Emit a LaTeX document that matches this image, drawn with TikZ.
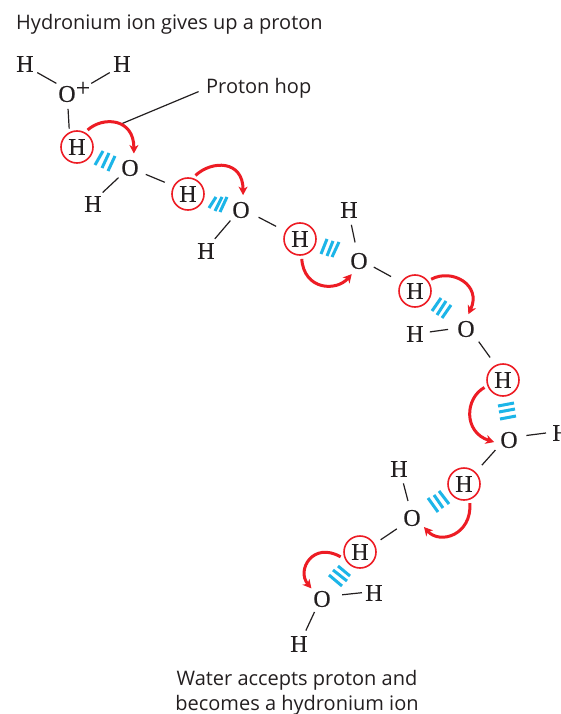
\documentclass[tikz,border=0pt]{standalone}
\usepackage{fontspec}
\setmainfont[FakeBold=0.25]{Liberation Serif}
\newfontfamily\labelfont{Open Sans}
\usetikzlibrary{arrows.meta}
\definecolor{ink}{HTML}{231F20}
\definecolor{hopred}{HTML}{ED1C24}
\definecolor{hashblue}{HTML}{1CB5E8}
\tikzset{
  atom/.style={circle,inner sep=0pt,minimum size=30pt,outer sep=0pt,text=ink,font=\fontsize{24}{24}\selectfont},
  hcirc/.style={circle,draw=hopred,line width=1.6pt,inner sep=0pt,minimum size=32pt,outer sep=4pt,text=ink,font=\fontsize{24}{24}\selectfont},
  plusn/.style={circle,inner sep=0pt,minimum size=20pt,outer sep=0pt,text=ink,font=\fontsize{25}{25}\selectfont},
  bond/.style={draw=ink,line width=1.2pt},
  hop/.style={draw=hopred,line width=3pt,-{Stealth[length=8.5pt,width=9pt,inset=2.5pt]}},
  hashl/.style={draw=hashblue,line width=3pt},
  lab/.style={text=ink,inner sep=0pt,font=\labelfont\fontsize{20}{25}\selectfont},
}
\begin{document}
\begin{tikzpicture}[x=1pt,y=-1pt]
\useasboundingbox (0,0) rectangle (561,714);
\clip (0,0) rectangle (561,714);
\fill[white] (0,0) rectangle (561,714);
% labels
\node[lab,anchor=west] (t1) at (16,24) {Hydronium ion gives up a proton};
\node[lab,anchor=west] (t2) at (206,88.5) {Proton hop};
\node[lab,align=center,anchor=center] (t3) at (297,693) {Water accepts proton and\\becomes a hydronium ion};
% atoms
\node[atom] (h1) at (25,64) {H};
\node[atom] (h2) at (122,64) {H};
\node[atom] (o1) at (67,94) {O};
\node[plusn] (pl) at (83,89) {+};
\node[hcirc] (c1) at (77,147) {H};
\node[atom] (o2) at (130,168) {O};
\node[atom] (h3) at (93,204) {H};
\node[hcirc] (c2) at (188,194) {H};
\node[atom] (o3) at (241,210) {O};
\node[atom] (h4) at (206,251) {H};
\node[hcirc] (c3) at (300,239) {H};
\node[atom] (o4) at (359,261) {O};
\node[atom] (h5) at (349,210) {H};
\node[hcirc] (c4) at (415,291) {H};
\node[atom] (o5) at (466,329) {O};
\node[atom] (h6) at (415,334) {H};
\node[hcirc] (c5) at (503,380) {H};
\node[atom] (o6) at (509,440) {O};
\node[atom] (h7) at (561,433) {H};
\node[hcirc] (c6) at (464,484) {H};
\node[atom] (o7) at (412,518) {O};
\node[atom] (h8) at (399,469) {H};
\node[hcirc] (c7) at (360,552) {H};
\node[atom] (o8) at (322,599) {O};
\node[atom] (h9) at (374,593) {H};
\node[atom] (h10) at (299,644) {H};
% bonds
\draw[bond] (h1.-35) -- (o1.135);
\draw[bond] (h2.215) -- (pl.34);
\draw[bond] (o1.-86) -- (c1.113);
\draw[bond] (o2.220) -- (h3.50);
\draw[bond,shorten <=2pt,shorten >=6pt] (o2.-22) -- (c2.152);
\draw[bond] (o3.225) -- (h4.54);
\draw[bond,shorten <=4pt,shorten >=7pt] (o3.-21) -- (c3.152);
\draw[bond,shorten >=4pt] (h5.-81) -- (o4.102);
\draw[bond,shorten <=1pt,shorten >=8pt] (o4.-22) -- (c4.148);
\draw[bond,shorten >=3pt] (h6.8) -- (o5.180);
\draw[bond,shorten <=3pt,shorten >=6pt] (o5.-43) -- (c5.118);
\draw[bond,shorten <=3pt] (o6.16) -- (h7.180);
\draw[bond,shorten <=2pt,shorten >=6pt] (o6.215) -- (c6.46.5);
\draw[bond,shorten >=2.5pt] (h8.-73) -- (o7.103);
\draw[bond,shorten <=3.6pt,shorten >=4pt] (o7.216) -- (c7.30);
\draw[bond,shorten <=5.6pt,shorten >=-3pt] (o8.14) -- (h9.180);
\draw[bond] (o8.240) -- (h10.63);
% leader
\coordinate (ld) at (121,124);
\draw[bond,shorten <=8pt] (t2.west) -- (ld);
% hydrogen-bond hashes
\draw[hashl] (103,151)--(95,165) (109,153)--(102,168) (115,156)--(108,171);
\draw[hashl] (216,197)--(209,208) (222,197)--(215,211) (227,197)--(220,212);
\draw[hashl] (327,239)--(321,254) (333,241)--(327,256) (339,242)--(332,257);
\draw[hashl] (441,298)--(432,311) (446,301)--(437,315) (451,305)--(442,318);
\draw[hashl] (498,406)--(514,403) (499,412)--(515,409) (500,419)--(516,416);
\draw[hashl] (428,498)--(438,512) (434,495)--(443,508) (439,491)--(449,504);
\draw[hashl] (329,575)--(342,586) (333,570)--(347,581) (338,566)--(350,576);
% hop arrows
\draw[hop] (c1.58) .. controls (103,116) and (134,118) .. (o2.75);
\draw[hop] (c2.68) .. controls (212,160) and (243,160) .. (o3.82);
\draw[hop] (c3.-85) .. controls (304,290) and (336,292) .. (o4.241);
\draw[hop] (c4.36) .. controls (452,268) and (482,285) .. (o5.81);
\draw[hop] (c5.202) .. controls (465,398) and (463,432) .. (o6.188);
\draw[hop] (c6.-73) .. controls (472,535) and (440,545) .. (o7.-37);
\draw[hop] (c7.194) .. controls (313,541) and (296,570) .. (o8.135);
\end{tikzpicture}
\end{document}
